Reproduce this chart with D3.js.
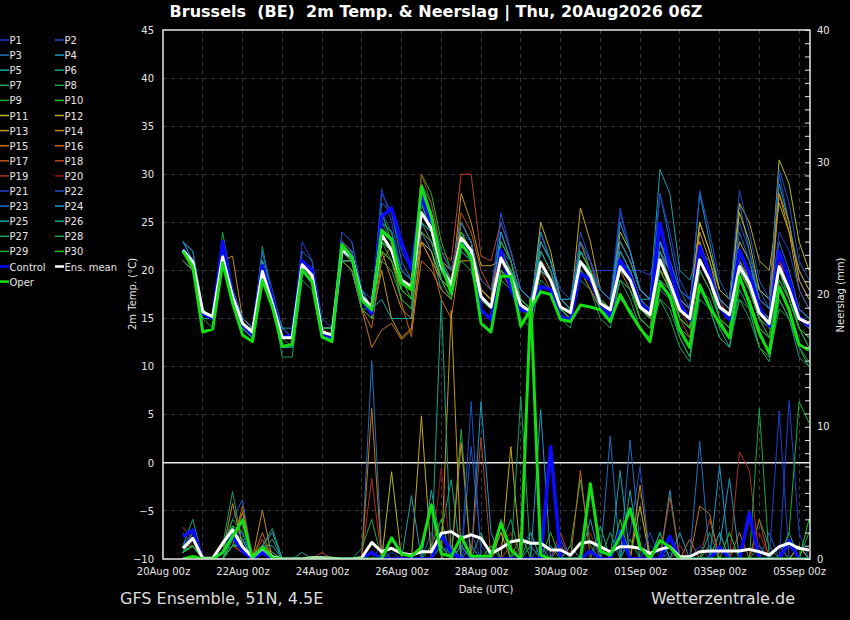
<!DOCTYPE html>
<html>
<head>
<meta charset="utf-8">
<script src="https://cdnjs.cloudflare.com/ajax/libs/d3/7.8.5/d3.min.js"></script>
<style type='text/css'>
  body { margin: 0; background: #000; }
  svg text { font-family: "DejaVu Sans", sans-serif; fill: #e6e6e6; }
  .grid line { stroke: #3a3a3a; stroke-dasharray: 4,4; shape-rendering: crispEdges; }
  .frame { fill: none; stroke: #e6e6e6; stroke-width: 1.5; }
  .axis path { display: none; }
  .axis line { stroke: #e6e6e6; }
  .axis text { font-size: 10px; }
</style>
<script type='text/javascript'>
// GFS ensemble run, 6-hourly steps starting 20Aug 12z
var runStart = Date.UTC(2026, 7, 20, 12);
var stepHours = 6;

var memberNames = ['P1','P2','P3','P4','P5','P6','P7','P8','P9','P10',
  'P11','P12','P13','P14','P15','P16','P17','P18','P19','P20',
  'P21','P22','P23','P24','P25','P26','P27','P28','P29','P30'];

var xTickLabels = ['20Aug 00z','22Aug 00z','24Aug 00z','26Aug 00z','28Aug 00z',
  '30Aug 00z','01Sep 00z','03Sep 00z','05Sep 00z'];
var tempTicks = [-10,-5,0,5,10,15,20,25,30,35,40,45];
var precipTicks = [0,10,20,30,40];

// 2m temperature (°C), members P1..P30
var memberTemps = [
  [22,21,16,15, 22,17,14,13, 21,17,13,13, 21,20,14,13, 22,22,17,16, 25,24,20,19, 27,25,21,19, 23,22,17,16, 22,20,17,16, 21,20,17,16, 22,20,20,20, 20,20,20,19.5, 23,20,17,16, 22,20,17,16, 21,19,16,15, 22,19,16,15],
  [23,21,16,15, 22,18,15,14, 20,16,13,13, 22,21,14,13, 24,23,18,16, 28,26,22,20, 25,24,21,20, 22,21,18,17, 26,22,18,17, 22,20,17,16, 24,21,17,16, 26,22,18,17, 23,21,18,17, 23,20,17,16, 25,22,18,16, 30,25,20,18],
  [22,21,16,15, 21,17,14,13, 20,17,13,13, 20,19,14,14, 22,21,17,16, 27,26,21,19, 27,25,21,19, 24,23,18,17, 24,21,17,16, 21,20,17,17, 20,19,17,16, 20,20,17,16, 28,23,18,17, 22,20,17,16, 27,22,17,16, 22,19,16,15],
  [23,21,16,15, 22,18,15,14, 21,17,14,13, 21,20,14,14, 22,21,18,16, 24,22,18,17, 24,22,18,17, 22,21,17,16, 24,21,17,16, 24,21,17,16, 21,20,18,17, 23,21,18,17, 22,20,17,16, 28,23,18,17, 22,20,18,17, 29,25,19,17],
  [23,22,16,15, 21,17,15,14, 21,17,14,13, 21,20,14,14, 23,22,17,16, 23,22,18,17, 26,25,21,19, 25,23,18,17, 23,21,17,16, 22,20,17,16, 23,21,18,17, 21,20,17,17, 30.5,28,20,19, 22,21,18,17, 23,21,17,16, 21,19,16,15],
  [22,21,15,15, 21,17,14,13, 22,17,13,13, 20,19,13,13, 22,21,17,16, 24,23,19,18, 27,25,20,18, 21,20,16,15, 20,19,16,15, 20,19,16,15, 22,21,17,16, 19,18,16,15, 18,17,13,11, 17,16,13,12, 18,16,12,11, 17,15,11,10],
  [21,20,15,15, 21,17,14,13, 22.5,17,11,11, 19,18,13,13, 22,21,16,16, 21,20,17,16, 27,24,19,17, 22,21,16,15, 19,18,15,14, 19,18,15,14, 20,18,15,14, 19,17,14,13, 17,15,12,10.5, 18,16,13,12, 17,15,12,10.5, 17,15,12,10.5],
  [21,20,15,14, 24,18,14,13, 20,16,13,13, 20,19,13,13, 21,21,16,15, 23,21,18,17, 29,26,21,19, 24,22,17,16, 22,20,16,15, 21,19,16,15, 19,18,16,15, 20,18,15,14, 19,17,14,13, 21,19,15,14, 19,17,14,13, 20,17,14,13],
  [22,21,16,15, 21,17,14,13, 20,16,13,13, 20,19,13,13, 22,21,17,16, 25,24,20,19, 29,27,22,20, 25,23,18,17, 21,20,17,16, 22,20,16,16, 22,20,17,16, 21,20,16,16, 21,19,16,15, 22,20,16,15, 21,19,16,15, 22,19,15,14],
  [22,21,16,15, 21,17,14,14, 20,17,13,13, 20,19,14,13, 22,21,17,16, 26,23,19,17, 30,28,23,20, 24,22,17,16, 23,21,17,16, 21,19,16,15, 21,20,17,16, 20,19,16,15, 21,18,15,14, 20,18,15,14, 21,18,15,14, 21,18,14,13],
  [22,21,16,15, 21,17,15,14, 20,16,13,13, 20,19,14,13, 22,21,17,16, 22,21,18,17, 23,22,19,18, 25,23,18,17, 22,21,17,16, 25,22,17,16, 21,20,17,16, 24,22,18,17, 22,20,17,16, 25,22,18,17, 26,23,18,17, 31.5,29,23,20],
  [22,21,16,15, 22,17,14,13, 20,16,13,13, 21,20,14,14, 22,21,17,16, 23,22,19,18, 24,23,21,20, 21,21,19,18, 22,20,17,16, 21,19,17,16, 26.5,23,18,17, 23,21,18,17, 22,20,17,16, 25,22,18,17, 27,25,21,20, 27,24,20,18],
  [22,20,16,15, 21,17,14,14, 21,17,13,13, 21,20,14,14, 21,21,16,15, 20,15,13,14, 23,21,19,18, 28,25,20.5,20.5, 21,19,16,16, 23,21,17,16, 21,19,17,16, 22,20,17,16, 20,19,16,15, 24,21,17,16, 22,19,16,15, 28,24,18,16],
  [21,20,15,15, 21,21.5,15,14, 20,16,13,13, 20,19,13,13, 21,20,16,15, 22,19,16,15, 25,24,21,19, 23,22,18,17, 21,20,16,15, 20,19,16,15, 23,20,16,15, 20,19,16,15, 23,20,17,16, 21,19,16,15, 23,21,17,16, 28,25,19,17],
  [22,20,15,15, 21,17,14,13, 20,16,13,13, 21,19,14,13, 21,20,16,12, 13.8,14.5,12.8,13.8, 21,20,18,17, 24,22,18,17, 21,19,16,15, 20,19,16,15, 21,19,16,15, 21,19,16,15, 21,19,16,15, 23,20,16,15, 21,18,15,14, 22,19,15,14],
  [22,20,16,15, 21,17,14,13, 20,16,13,13, 20,19,13,13, 21,20,16,14, 21,22.5,16.6,13.1, 23,21,17,15, 22,21,17,16, 20,18,16,15, 21,19,16,15, 20,18,16,15, 21,19,16,15, 20,18,15,14, 21,19,15,14, 21,19,15,14, 20,18,15,14],
  [22,21,16,15, 21,17,14,13, 21,17,13,13, 21,20,14,13, 23,22,17,16, 24,22,19,18, 27,25,21,19, 26,24,20,18, 22,20,17,16, 20,18,16,15, 22,20,17,16, 20,18,15,14, 21,19,15,14, 20,18,15,13, 22,19,15,14, 21,18,14,13],
  [22,21,16,15, 21,17,15,14, 20,17,13,13, 21,20,14,14, 23,22,17,16, 24,23,19,18, 28,26,22,21, 30,30,21.5,21, 25,22,18,17, 22,20,17,16, 21,20,17,16, 21,19,16,15, 21,18,15,13, 22,20,17,15, 21,19,16,14, 20,18,15,14],
  [22,21,16,15, 21,17,14,13, 21,17,13,13, 21,20,14,14, 23,22,17,16, 24,22,19,18, 30,27,22,20, 24,22,17,16, 21,20,17,16, 21,19,17,16, 21,20,17,16, 21,19,16,15, 22,19,16,14, 22,20,17,16, 20,18,15,13, 21,19,15,14],
  [22,21,16,15, 21,17,14,13, 20,16,13,13, 20,19,13,13, 22,21,17,16, 24,22,19,18, 27,25,21,19, 23,22,17,16, 20,19,16,15, 21,20,17,16, 22,21,17,16, 20,19,17,16, 21,19,16,15, 21,19,16,15, 20,18,16,15, 21,18,15,14],
  [22,21,16,15, 22,18,15,14, 21,17,14,13, 23,21,14,14, 23,22,17,16, 28.5,25,20,19, 27,24,20,18, 23,22,17,16, 22,21,17,16, 22,20,17,16, 22,21,18,17, 26.5,22,18,17, 28,24,19,17, 22,20,17,16, 22,20,17,16, 24,22,18,16],
  [22,21,16,15, 21,18,15,14, 22,18,14,13, 22,21,15,14, 24,23,18,17, 26,24,20,19, 28,26,22,20, 25,23,19,18, 25,22,18,17, 23,21,18,17, 23,21,18,17, 22,20,17,16, 22,20,17,16, 28.3,24,19,17, 28.3,24,19,17, 30.5,27,21,19],
  [23,22,16,15, 22,18,15,14, 21,17,13,13, 21,20,14,14, 22,22,17,16, 25,23,20,19, 26,24,20,19, 22,21,17,16, 21,20,17,16, 24,21,17,16, 22,20,18,17, 23,21,18,17, 23,21,18,16, 22,20,17,16, 24,21,17,16, 23,20,16,15],
  [22,21,16,15, 21,17,14,13, 20,17,12,12, 20,19,13,13, 22,21,17,16, 24,23,18,17, 25,24,20,18, 22,21,17,16, 21,20,18,17, 20,19,17,17, 22,20,17,16, 25,22,18,17, 23,20,16,15, 22,20,16,15, 20,18,15,14, 20,18,15,14],
  [22,21,16,15, 22,18,15,14, 21,17,14,14, 20,19,14,14, 22,21,17,16, 17,15,15,15, 26,24,20,19, 22,21,17,16, 22,20,17,16, 23,21,17,16, 21,20,17,16, 22,20,17,16, 22,19,16,15, 22,20,17,16, 21,19,16,15, 20,18,15,14],
  [21,20,15,15, 21,17,14,13, 20,16,13,13, 20,19,13,13, 21,21,16,15, 23,22,18,17, 25,23,19,18, 23,22,17,16, 20,19,16,15, 20,19,16,15, 20,19,16,15, 17,16,14,13, 19,18,15,14, 18,17,14,12, 20,18,15,14, 19,17,14,13],
  [22,21,16,15, 21,17,14,13, 20,16,13,13, 20,19,13,13, 22,21,17,16, 25,24,18,17, 27,25,20,18, 22,21,16,15, 23,21,17,16, 22,20,16,15, 21,19,16,15, 21,19,16,15, 20,18,15,14, 21,19,15,14, 20,18,15,13, 20,18,14,12],
  [22,21,16,15, 21,17,14,13, 20,16,13,12, 20,19,13,13, 22,21,17,16, 23,22,19,18, 26,24,20,19, 22,21,16,15, 21,20,16,15, 21,19,16,15, 20,19,16,15, 19,18,15,14, 17,16,13,11, 20,18,15,13, 17,16,12,11, 16,15,12,10],
  [22,21,16,15, 21,17,14,13, 20,16,13,13, 20,19,13,13, 21,20,16,15, 22,21,17,16, 27,24,19,17, 23,21,16,15, 20,19,16,15, 21,19,16,15, 22,20,16,15, 21,19,15,14, 20,18,15,14, 21,19,15,14, 19,17,14,13, 19,17,14,12],
  [22,21,16,15, 21,17,14,13, 20,17,13,13, 21,20,14,14, 22,21,17,16, 23,22,18,17, 28,26,21,19, 24,22,17,16, 21,20,17,16, 21,19,16,15, 21,20,17,16, 20,19,16,15, 20,18,15,14, 21,19,16,15, 20,18,15,14, 20,17,14,13]
];

// 6-hourly precipitation (mm), members P1..P30
var memberPrecip = [
  [0.5,1.5,0,0, 0.5,2,1,0, 0.5,0,0,0, 0,0,0,0, 0,0,0,0.5, 0,0.5,0,0, 0,0,1,0.5, 0,1,0,0, 0,0,1,2, 0,0,0,0, 0,0.5,1,0, 0,0,0,1, 0.5,0,0,0, 0,0,1,0, 0,0,0,0, 0,12,2,0],
  [1,2,0,0, 1,3,4.5,0, 1,0,0,0, 0,0,0,0, 0,0,0,0, 1,0,0,0, 0,2,0.5,1, 0,8.5,1,0, 0,0,0,0, 0,0,1.5,0, 0,0,0,0, 0,2,7,0, 0,0.5,0,0, 0,0,1,0, 0,0,0,2, 0,1,0,0],
  [0.5,1,0,0, 1,2,2,0, 0.5,0,0,0, 0,0,0,0, 0,0,0,15, 0.5,0,0,0, 0,0,2,0, 0,1,0,0, 0,0,0,0, 1,0,0,0, 0,0,0,0, 0,9,1,0, 0,0,0,0, 0,0,2,0, 0,0,0,0, 0,0,1,0],
  [1,1.5,0,0, 0.5,1,1.5,0, 1,0.5,0,0, 0,0,0,0, 0,0,0,0, 0,0,0,0, 0,0,0,1, 0,0,11.9,2, 0,0,0,0, 0,0,0,1, 0,0,0,0, 0,0,0,0, 0,5.2,0,0, 0,0,1,6.1, 0,0,0,0, 1,0,0,0],
  [0.5,2,0,0, 1,1.5,0.5,0, 1,1,0,0, 0,0,0,0, 0,0,0,0, 0,0,0,0, 0,5.2,1,0, 0,0,0,0, 0,0,0,1, 0,0,0,0, 0,0,0,0, 0,5.2,0,0, 0,1,0,0, 0,0,0,0, 0,0,1,0, 0,0,0,0],
  [1,3,0,0, 1,2.5,1,0, 1,2.3,0,0, 0.5,0,0,0, 0,0,0,0, 0,0,0,0, 0,0,2,6, 0,0,0,0, 0,0,0,0, 0,1,0,0, 0,0,0,0, 0,0,0,0, 0,0,0,0, 0,0,2,0, 0,0,0,0, 0,0,0,0],
  [0.5,1,0,0, 1,5.1,1,0, 1,0,0,0, 0,0,0,0, 0,0,0,0, 0,0,0,0, 0,0,0,0, 1,0,0,0, 1,3,0,0, 0,0,0,0, 0,0,0,0, 0,0,0,0, 2,0,0,0, 0,0,0,0, 0,0,3,1, 0,0,0,0],
  [0.5,1,0,0, 0.5,2,1.5,0, 0.5,0,0,0, 0,0,0,0, 0,0,0,0, 0,0,0,0, 0,0,1,0, 9.8,0,0,0, 0,0,0,0, 0,0,0,0, 0,0,0,0, 2,0,0,0, 0,0,0,0, 0,0,0,0, 0,0,0,0, 0,0,0,2],
  [0.5,1.5,0,0, 0.5,3,2,0, 1,0.5,0,0, 0,0,0,0, 0,0,0,0.5, 0,0,0,0, 0,0,0,0, 0,0,0,0, 0,0,0,0, 0,0,0,1, 6,1,0,0, 0,0,0,0, 0,0,0,0, 0,0,0,0, 0,0,0,0, 0,0,0,0],
  [0.5,1,0,0, 1,2.5,2,0, 0.5,0,0,0, 0,0,0,0, 0,0,0,0, 0,0,0,0, 0,1,3,0, 0,0,0,0, 0,0,2,0, 0,0,0,0, 0,0,0,0, 0,0,0,0, 0,0,0,0, 0,1,0,0, 0,0,0,0, 0,0,0,0],
  [0.5,1,0,0, 0.5,1.5,1,0, 0.5,0,0,0, 0,0,0,0, 0,0,0,0, 0,6.6,0,0, 0,0,0,0, 0,0,0,0, 2,0,0,0, 0,0,0,0, 0,0,0,0, 0,0,4,0, 0,0,0,0, 0,0,0,0, 0,3,0,0, 0,0,1,0],
  [0.5,1,0,0, 0,1,1,0, 1,0,0,0, 0,0,0,0, 0,0,0,0, 0,0,0,0, 10.8,0,0,0, 0,0,0,0, 0,8.5,0,0, 0,0,0,0, 0,0,0,0, 0,0,0,0, 0,0,0,0, 0,0,0,0, 0,0,0,0, 0,0,0,0],
  [0.5,1,0,0, 0,1.5,3.5,0, 0.5,0,0,0, 0,0,0,0, 0,0,0,0, 0,0,0,0, 0,0,0,18.8, 0,0,0,0, 0,0,0,0, 0,0,0,0, 0,0,0,0, 0,0,0,0, 0,0,0,0, 0,0,0,0, 0,0,0,0, 0,0,0,0],
  [0.5,1,0,0, 0.5,4.2,1,0, 3.7,0,0,0, 0,0,0,0, 0,0,0,0, 0,0,0,0, 0,0,0,0, 8.8,0,0,0, 0,0,0,0, 0,0,0,0, 0,0,0,0, 0,0,5.6,0, 0,0,0,0, 0,0,0,0, 0,0,0,0, 0,0,0,0],
  [1,1,0,0, 0,1,4,0, 1,0,0,0, 0,0,0,0, 0,0,0,11.4, 0,0,0,0, 0,0,0,0, 0,0,0,0, 0,0,0,0, 0,0,0,0, 0,0,0,0, 0,0,0,0, 0,0,0,0, 4,3.4,0,0, 0,0,0,0, 0,0,0,0],
  [0.5,1,0,0, 0,1,0.5,0, 2,0,0,0, 0,0,0,0, 0,0,0,0, 0,0,0,0, 0,0,0,0, 0,0,0,0, 0,0,0,0, 0,0,1,0, 6.7,0,0,0, 0,0,0,0, 0,0,0,1.5, 0,0,0,0, 2,0,0,0, 0,0,0,0],
  [1,1.5,0,0, 0,1,1,0, 1.5,0,0,0, 0,0,0,0, 0,0,0,0, 0,0,0,0, 0,0,0,0, 0,0,0,0, 0,1,0,0, 0,0,0,0, 0,0,0,0, 0,0,0,0, 0,4.7,0,0, 0,0,0,0, 0,0,3,0, 0,0,0,0],
  [2.4,1.5,0,0, 0,1,0.5,0, 1,0,0,0, 0,0,0.5,0, 0,0,0,0, 0,0,0,0, 0,0,0,0, 0,0,9.2,0, 0,0,0,0, 0,0,2,0, 0,0,0,0, 0,0,0,0, 0,0,0,0, 0,3,0,0, 0,0,0,0, 0,0,0,0],
  [2,1,0,0, 0,1,0.5,0, 0.5,0,0,0, 0,0,0,0, 0,0,0,6.1, 0,0,0,0, 0,0,0,0, 0,0,0,0, 0,0,0,0, 0,0,0,0, 0,0,0,0, 0,0,0,0, 0,0,0,0, 0,0,0,0, 8.1,6.7,0,0, 0,0,0,0],
  [1,1,0,0, 0,1,1,0, 0.5,0,0,0, 0,0,0,0, 0,0,0,0, 0,0,0,0, 0,0,6.9,0, 0,0,0,0, 1,2,0,0, 0,0,0,0, 0,2,0,0, 0,0,0,0, 0,0,1,0, 0,0,0,0, 0,0,2,0, 0,0,0,0],
  [1,2,0,0, 0,1.5,2,0, 0.5,0,0,0, 0,0,0,0, 0,0,0,0, 0,0,0,0, 0,0,0,0, 0,2,0,0, 0,0,0,0, 0,0,1.5,0, 0,0,0,0, 0,0,0,2, 0,0,0,0, 1,0,0,0, 0,0,0,0, 11.2,0,0,0],
  [1,2,0,0, 0,2,3,0, 1,0,0,0, 0,0,0,0, 0,0,0,0, 0,0,0,0, 0,0,0,0, 0,11.9,0,0, 0,0,0,0, 0,0,0,0, 0,0,0,0, 0,0,0,0, 0,0,0,0, 0,0,0,0, 0,0,0,0, 0,0,0,0],
  [0.5,1.5,0,0, 0,2,1,0, 0.5,0,0,0, 0,0,0,0, 0,0,0,0, 0,0,0,0, 0,0,0,0, 0,0,0,0, 0,0,0,0, 0,0,0,0, 0,0,0,9.3, 0,0,0,0, 0,0,0,0, 8.9,0,0,0, 0,0,0,0, 0,0,0,0],
  [0.5,1,0,0, 0,1,1.5,0, 0.5,0,0,0, 0,0,0,0, 0,0,0,0, 0,0,0,0, 0,0,0,0, 1,0,0,0, 0,0,0,0, 11.3,0,0,0, 0,3,0,0, 0,0,0,0, 0,0,2,0, 0,0,7.1,0, 0,0,0,0, 0,0,0,0],
  [0.5,1.5,0,0, 0,1,1,0, 1,2,0,0, 0,0,0,0, 0,0,0,0, 0,0,0,4.8, 0,0,0,0, 0,0,0,0, 0,0,0,0, 0,0,0,0, 0,0,0,0, 6.7,0,0,0, 0,0,0,0, 0,0,0,0, 0,0,0,0, 0,0,0,0],
  [0.5,1,0,0, 0,1.5,1,0, 0.5,1.5,0,0, 0,0,0,0, 0,0,0,0, 0,0,0,0, 0,0,19.6,0, 0,0,0,0, 0,0,0,2, 0,0,0,0, 0,0,2.5,0, 0,0,0,0, 2,0,0,0, 0,0,0,0, 0,0,0,0, 0,2,0,0],
  [0.5,1,0,0, 0,2,1,0, 0.5,0,0,0, 0,0,0,0, 0,0,0,0, 0,0,0,0, 0,0,0,0, 0,0,2,0, 0,0,12.3,0, 0,0,0,0, 0,0,0,2, 0,0,0,0, 0,0,0,0, 0,2,0,0, 0,0,0,0, 0,0,0,0],
  [0.5,1,0,0, 0,1,1,0, 0.5,0,0,0, 0,0,0,0, 0,0,0.8,3, 0,0,0,0, 0,0,0,0, 0,0,0,0, 3,0,0,0, 0,0,0,0, 0,0,0,0, 0,1.5,0,0, 0,0,0,0, 0,0,0,0, 0,0,11.4,0, 0,0,0,0],
  [0.5,1,0,0, 0,1,1,0, 0.5,0,0,0, 0,0,0,0, 0,0,0,0, 0,0,0,0, 0,0,0,0, 0,0,0,0, 0,0,0,0, 0,0,0,0, 0,0,0,0, 0,0,0,0, 0,0,0,0, 0,0,0,0, 0,0,0,0, 0,2,11.9,10.3],
  [0.5,1,0,0, 0,1.5,1,0, 0.5,0,0,0, 0,0,0,0, 0,0,0,0, 0,0,0,0, 0,0,0,0, 0,0,0,1, 0,0,0,0, 0,2,0,0, 0,0,0,0, 3,0,0,0, 0,0,0,0, 0,0,0,2, 0,0,0,0, 0,0,0,3]
];

var controlTemp = [22.2,20.5,15.5,15.0, 23.0,17.5,14.3,13.3, 20.5,17.0,13.0,13.3, 21.0,20.0,13.5,13.0, 22.0,21.5,17.0,15.5, 25.6,26.5,22.9,20.1, 27.7,24.9,20.8,18.3, 22.9,21.4,15.9,14.9, 22.1,18.0,15.9,15.7, 18.3,18.0,15.2,14.9, 19.7,19.0,16.6,15.2, 21.1,19.4,16.6,15.6, 24.9,20.4,16.6,14.9, 22.5,19.7,16.2,14.9, 22.1,19.7,16.2,14.2, 22.0,19.0,15.2,14.2];
var controlPrecip = [1.7,2.2,0,0, 0.5,1.7,0.6,0, 0.5,0,0,0, 0,0,0,0, 0,0,0,0.5, 0,0,0,0, 0,0,1.9,0.5, 0,0,0,0, 0,0,0,0, 0,8.5,0,0, 0,0.6,0,0, 2.1,0,0,0, 0,1.7,0,0, 0,0,0.9,0, 0,3.5,0,0, 0,1.4,0,0];

var operTemp = [22.0,20.4,13.6,13.9, 20.8,16.6,13.3,12.6, 19.0,16.2,12.1,12.3, 20.1,18.8,13.1,12.6, 22.7,21.4,16.9,15.9, 24.2,23.2,18.7,18.0, 28.7,25.6,20.8,17.6, 22.8,21.4,14.5,13.6, 19.4,19.4,14.2,16.0, 17.8,17.5,14.9,14.7, 16.4,16.2,15.9,14.7, 17.5,15.6,14.0,12.6, 18.7,17.3,13.8,12.0, 18.5,16.2,14.5,13.0, 19.4,16.6,13.5,11.4, 18.3,15.9,12.3,11.7];
var operPrecip = [0,0.2,0,0, 0.5,1.7,2.95,0.1, 0.9,0.1,0,0, 0,0,0,0, 0,0,0,0, 0,1.6,0.4,0.2, 0.9,4.1,0.4,0.2, 1.7,0.2,0.2,0.2, 2.7,0.7,0,19.6, 0.3,0,0,0, 0,5.7,0.6,0.3, 1.7,3.8,0.9,0, 1.4,0.9,0,0, 0,0,0,0, 0,0,0,0, 0,0,0,0];

var meanTemp = [22.1,20.9,15.7,15.2, 21.4,17.3,14.5,13.6, 19.9,16.6,13.0,13.0, 20.6,19.5,13.6,13.3, 22.1,21.4,17.3,16.2, 23.7,22.1,19.0,18.3, 26.0,24.4,20.4,18.5, 23.4,22.1,17.3,16.2, 21.3,19.4,16.4,15.7, 20.8,19.0,16.2,15.6, 20.9,19.5,16.6,15.9, 20.4,19.0,16.2,15.4, 21.1,18.7,15.9,15.0, 21.1,19.0,16.2,15.4, 20.4,18.7,15.6,14.5, 20.4,18.0,15.0,14.5];
var meanPrecip = [0.81,1.57,0.05,0.05, 1.19,2.2,0.93,0.13, 0.81,0.17,0,0, 0,0.1,0.1,0.05, 0,0,0.1,1.25, 0.55,0.81,0.43,0.3, 0.55,0.55,1.95,2.07, 1.57,1.82,1.57,0.43, 0.81,1.31,1.44,1.19, 1.19,0.68,0.68,0.3, 1.19,1.3,0.93,0.55, 0.93,0.93,0.81,0.43, 0.73,0.93,0.17,0.17, 0.55,0.6,0.6,0.6, 0.6,0.73,0.55,0.3, 0.93,1.19,0.81,0.68];

var memberColors = ['#1f3fd2','#1d52c4','#1e70c2','#1a98c8','#17a3aa','#16a386','#16a062','#18a845','#18b02a','#1cc21c',
  '#bcbc18','#c4aa18','#c49a18','#c48a18','#c47818','#c46818','#bc5418','#b44420','#ac3420','#a01818'];

document.addEventListener('DOMContentLoaded', function(event) {
  var W = 850, H = 620;
  var L = 163, R = 810, T = 30, B = 559;

  var svg = d3.select('#chart').attr('width', W).attr('height', H);
  svg.append('rect').attr('width', W).attr('height', H).attr('fill', '#000');

  var times = meanTemp.map(function(d, i) { return new Date(runStart + i * stepHours * 3600e3); });

  var x = d3.scaleUtc()
    .domain([Date.UTC(2026, 7, 20, 0), Date.UTC(2026, 8, 5, 6)])
    .range([L, 809]);
  var yT = d3.scaleLinear().domain([-10, 45]).range([B, T]);
  var yP = d3.scaleLinear().domain([0, 40]).range([B, T]);

  var tickDates = xTickLabels.map(function(d, i) { return new Date(Date.UTC(2026, 7, 20 + 2 * i)); });

  // grid
  var grid = svg.append('g').attr('class', 'grid');
  grid.selectAll('line.h')
    .data(tempTicks.filter(function(t) { return t > -10 && t < 45 && t !== 0; }))
    .enter().append('line')
      .attr('x1', L).attr('x2', R)
      .attr('y1', function(d) { return yT(d); })
      .attr('y2', function(d) { return yT(d); });
  grid.selectAll('line.v')
    .data(d3.utcDay.range(new Date(Date.UTC(2026, 7, 21)), new Date(Date.UTC(2026, 8, 5, 1))))
    .enter().append('line')
      .attr('y1', T).attr('y2', B)
      .attr('x1', function(d) { return x(d); })
      .attr('x2', function(d) { return x(d); });

  // zero line
  svg.append('line')
    .attr('x1', L).attr('x2', R)
    .attr('y1', yT(0)).attr('y2', yT(0))
    .attr('stroke', '#e6e6e6').attr('stroke-width', 1.5);

  svg.append('clipPath').attr('id', 'plotclip')
    .append('rect').attr('x', L).attr('y', T).attr('width', R - L).attr('height', B - T);

  var plot = svg.append('g').attr('clip-path', 'url(#plotclip)');

  var lineT = d3.line()
    .x(function(d, i) { return x(times[i]); })
    .y(function(d) { return yT(d); });
  var lineP = d3.line()
    .x(function(d, i) { return x(times[i]); })
    .y(function(d) { return yP(d); });

  function colorOf(k) { return memberColors[k % 20]; }

  plot.selectAll('path.mt')
    .data(memberTemps)
    .enter().append('path')
      .attr('class', 'mt')
      .attr('d', lineT)
      .attr('fill', 'none')
      .attr('stroke', function(d, k) { return colorOf(k); })
      .attr('stroke-width', 1);

  plot.selectAll('path.mp')
    .data(memberPrecip)
    .enter().append('path')
      .attr('class', 'mp')
      .attr('d', lineP)
      .attr('fill', 'none')
      .attr('stroke', function(d, k) { return colorOf(k); })
      .attr('stroke-width', 1);

  var thick = [
    { t: controlTemp, p: controlPrecip, c: '#0a0aff', w: 3.5 },
    { t: meanTemp, p: meanPrecip, c: '#ffffff', w: 3 },
    { t: operTemp, p: operPrecip, c: '#12e012', w: 3 }
  ];
  thick.forEach(function(s) {
    plot.append('path').attr('d', lineT(s.t))
      .attr('fill', 'none').attr('stroke', s.c).attr('stroke-width', s.w)
      .attr('stroke-linejoin', 'round');
    plot.append('path').attr('d', lineP(s.p))
      .attr('fill', 'none').attr('stroke', s.c).attr('stroke-width', s.w)
      .attr('stroke-linejoin', 'round');
  });

  // frame
  svg.append('rect').attr('class', 'frame')
    .attr('x', L).attr('y', T).attr('width', R - L).attr('height', B - T);

  // axes
  svg.append('g').attr('class', 'axis')
    .attr('transform', 'translate(' + L + ',0)')
    .call(d3.axisLeft(yT).tickValues(tempTicks).tickSize(0).tickPadding(9));

  svg.append('g').attr('class', 'axis')
    .attr('transform', 'translate(' + R + ',0)')
    .call(d3.axisRight(yP).tickValues(d3.range(0, 41, 1)).tickSizeInner(-5).tickSizeOuter(0).tickPadding(7)
      .tickFormat(function(d) { return precipTicks.indexOf(d) >= 0 ? d : ''; }));

  svg.append('g').attr('class', 'axis')
    .attr('transform', 'translate(0,' + B + ')')
    .call(d3.axisBottom(x).tickValues(tickDates).tickSize(0).tickPadding(9)
      .tickFormat(function(d, i) { return xTickLabels[i]; }));

  // titles
  svg.append('text')
    .attr('x', 436).attr('y', 17)
    .attr('text-anchor', 'middle')
    .style('font-size', '16px').style('font-weight', 'bold').style('fill', '#fff')
    .style('white-space', 'pre')
    .text('Brussels  (BE)  2m Temp. & Neerslag | Thu, 20Aug2026 06Z');

  svg.append('text')
    .attr('transform', 'translate(136,294) rotate(-90)')
    .attr('text-anchor', 'middle').style('font-size', '10px')
    .text('2m Temp. (°C)');
  svg.append('text')
    .attr('transform', 'translate(844,295) rotate(-90)')
    .attr('text-anchor', 'middle').style('font-size', '10px')
    .text('Neerslag (mm)');
  svg.append('text')
    .attr('x', 486).attr('y', 593)
    .attr('text-anchor', 'middle').style('font-size', '10px')
    .text('Date (UTC)');

  svg.append('text')
    .attr('x', 120).attr('y', 604)
    .style('font-size', '16px').style('fill', '#dcdcdc')
    .text('GFS Ensemble, 51N, 4.5E');
  svg.append('text')
    .attr('x', 795).attr('y', 604)
    .attr('text-anchor', 'end')
    .style('font-size', '16px').style('fill', '#dcdcdc')
    .text('Wetterzentrale.de');

  // legend
  var legendItems = memberNames.map(function(n, k) { return { name: n, color: colorOf(k), w: 1.5 }; });
  legendItems.push({ name: 'Control', color: '#0a0aff', w: 2.5 });
  legendItems.push({ name: 'Ens. mean', color: '#ffffff', w: 2.5 });
  legendItems.push({ name: 'Oper', color: '#12e012', w: 2.5 });

  var legend = svg.append('g');
  var item = legend.selectAll('g')
    .data(legendItems)
    .enter().append('g')
      .attr('transform', function(d, k) {
        var col = k % 2, row = Math.floor(k / 2);
        return 'translate(' + (col * 55) + ',' + (40 + row * 15.1) + ')';
      });
  item.append('line')
    .attr('x1', 0).attr('x2', 9)
    .attr('stroke', function(d) { return d.color; })
    .attr('stroke-width', function(d) { return d.w; });
  item.append('text')
    .attr('x', 9.5).attr('y', 4)
    .style('font-size', '10px')
    .text(function(d) { return d.name; });
});
</script>
</head>
<body>
<svg id="chart"></svg>
</body>
</html>
